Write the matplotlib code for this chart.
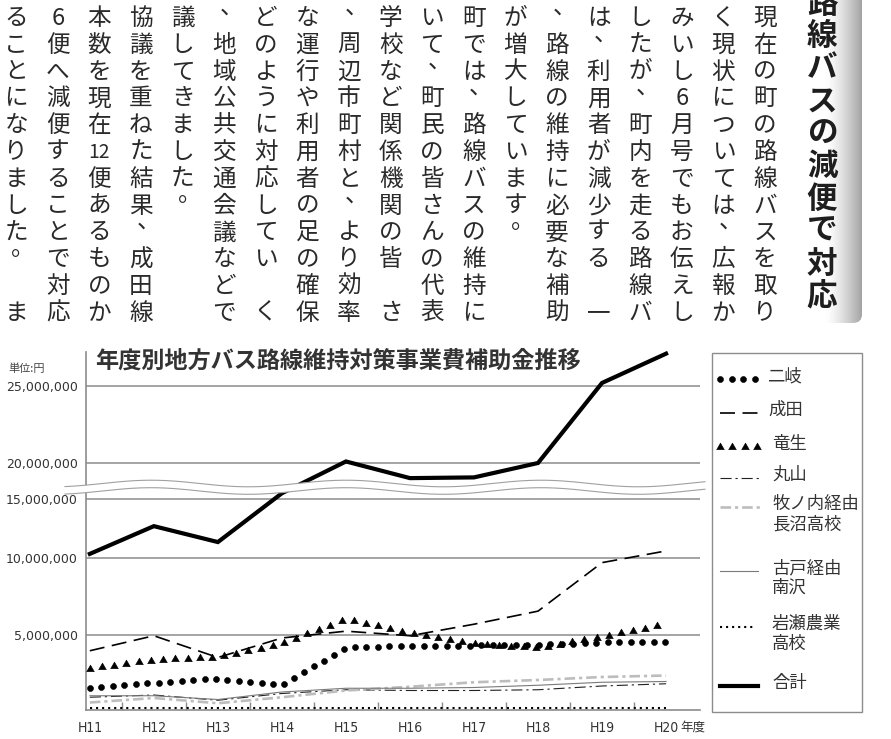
import re
import numpy as np
import matplotlib
matplotlib.use('Agg')
import matplotlib.pyplot as plt
from matplotlib.lines import Line2D
from matplotlib.patches import Polygon, FancyBboxPatch, Rectangle
from matplotlib.path import Path
from matplotlib.patheffects import AbstractPathEffect
from matplotlib.transforms import Affine2D, IdentityTransform

plt.rcParams['font.family'] = ['Noto Sans CJK JP', 'DejaVu Sans']

W, H = 891, 739

# ---- chart data (yen) ----
years = ['H11', 'H12', 'H13', 'H14', 'H15', 'H16', 'H17', 'H18', 'H19', 'H20']
futamata = [1500000, 1800000, 2100000, 1650000, 4150000, 4300000, 4300000, 4350000, 4500000, 4550000]
narita = [3950000, 4950000, 3500000, 4800000, 5250000, 4950000, 5700000, 6550000, 9700000, 10600000]
ryusei = [2750000, 3300000, 3500000, 4400000, 6000000, 5100000, 4400000, 4100000, 4850000, 5700000]
maruyama = [850000, 1000000, 650000, 1100000, 1350000, 1300000, 1300000, 1350000, 1600000, 1750000]
makinouchi = [500000, 800000, 450000, 850000, 1300000, 1550000, 1850000, 2000000, 2200000, 2300000]
furuto = [950000, 950000, 700000, 1200000, 1450000, 1450000, 1500000, 1650000, 1850000, 1900000]
iwase = [150000, 150000, 150000, 150000, 150000, 150000, 150000, 150000, 150000, 150000]
total = [10350000, 12700000, 11350000, 15800000, 20100000, 17900000, 18000000, 20000000, 25200000, 27100000]

names = ['二岐', '成田', '竜生', '丸山', '牧ノ内経由\n長沼高校', '古戸経由\n南沢', '岩瀬農業\n高校', '合計']
series = [futamata, narita, ryusei, maruyama, makinouchi, furuto, iwase, total]
yticks = [5000000, 10000000, 15000000, 20000000, 25000000]

# broken axis: value -> height above baseline (px)
knot_val = [0, 5e6, 10e6, 15e6, 20e6, 25e6, 30e6]
knot_px = [0, 75, 152, 211, 247, 324, 401]

# ---- article text (vertical columns, right to left) ----
heading = '路線バスの減便で対応'
columns = [
    "現在の町の路線バスを取り",
    "く現状については、広報か",
    "みいし6月号でもお伝えし",
    "したが、町内を走る路線バ",
    "は、利用者が減少する　一",
    "、路線の維持に必要な補助",
    "が増大しています。",
    "町では、路線バスの維持に",
    "いて、町民の皆さんの代表",
    "学校など関係機関の皆　さ",
    "、周辺市町村と、より効率",
    "な運行や利用者の足の確保",
    "どのように対応してい　く",
    "、地域公共交通会議などで",
    "議してきました。",
    "協議を重ねた結果、成田線",
    "本数を現在12便あるものか",
    "6便へ減便することで対応",
    "ることになりました。　ま",
]


class MarkerTrail(AbstractPathEffect):
    """draw a marker every `spacing` px along the line instead of the stroke"""
    def __init__(self, marker, size, spacing):
        super().__init__()
        self.marker = marker
        self.size = size
        self.spacing = spacing

    def draw_path(self, renderer, gc, tpath, affine, rgbFace=None):
        pts = affine.transform(tpath.vertices)
        seg = np.hypot(*np.diff(pts, axis=0).T)
        cum = np.concatenate([[0], np.cumsum(seg)])
        s = np.arange(0, cum[-1] + 0.5, self.spacing)
        xy = np.column_stack([np.interp(s, cum, pts[:, 0]), np.interp(s, cum, pts[:, 1])])
        gc0 = renderer.new_gc()
        gc0.copy_properties(gc)
        gc0.set_linewidth(0.4)
        gc0.set_dashes(0, None)
        renderer.draw_markers(gc0, self.marker, Affine2D().scale(self.size),
                              Path(xy), IdentityTransform(), gc.get_rgb())
        gc0.restore()


styles = [
    dict(color='black', lw=1, path_effects=[MarkerTrail(Path.unit_circle(), 3.0, 11.5)]),
    dict(color='black', lw=1.2, ls=(0, (9, 4.5))),
    dict(color='black', lw=1, path_effects=[MarkerTrail(Path.unit_regular_polygon(3), 4.4, 12.3)]),
    dict(color='#222222', lw=0.8, ls=(0, (10, 3.5, 2, 3.5))),
    dict(color='#bdbdbd', lw=1.9, ls=(0, (4, 1.5, 1.2, 1.5))),
    dict(color='#7a7a7a', lw=0.8, ls='-'),
    dict(color='black', lw=1.5, ls=(0, (1, 1.9))),
    dict(color='black', lw=3.0, ls='-', solid_joinstyle='miter'),
]

fig = plt.figure(figsize=(W / 100, H / 100), dpi=100)
PX = Affine2D().scale(1, -1).translate(0, H)

# ---- top: article ----
band = fig.add_axes([795 / W, 0, 67 / W, 1])
band.set_xlim(795, 862)
band.set_ylim(H, 0)
band.axis('off')
gx = np.linspace(0, 1, 200)
shade = 1 - 0.36 * np.clip((gx - 0.45) / 0.55, 0, 1) ** 1.4
img = band.imshow(np.tile(shade, (2, 1)), cmap='gray', vmin=0, vmax=1,
                  extent=[795, 862, 0, 323], aspect='auto', origin='upper')
clip = FancyBboxPatch((795, -30), 67, 353, boxstyle='round,pad=0,rounding_size=9',
                      transform=band.transData, fc='none', ec='none')
band.add_patch(clip)
img.set_clip_path(clip)

hs = 22
hem = hs * 100 / 72
for i, ch in enumerate(heading):
    cy = 1 + 32.5 * i
    fig.text(822, cy + 0.38 * hem, ch, transform=PX, ha='center', va='baseline',
             fontsize=hs, fontweight='bold', color='#1e1e1e')

bs = 17
bem = bs * 100 / 72
for k, col in enumerate(columns):
    cx = 765 - 41.6 * k
    for i, ch in enumerate(re.findall(r'\d{2}|.', col)):
        cy = 16 + 26.8 * i
        if ch == '　':
            continue
        if ch in '、。':
            fig.text(cx + 0.3 * bem, max(cy - 0.1 * bem, 9), ch, transform=PX, ha='center',
                     va='baseline', fontsize=bs, color='#2a2a2a')
        elif len(ch) == 2:
            fig.text(cx, cy + 0.36 * bem, ch, transform=PX, ha='center', va='baseline',
                     fontsize=bs * 0.82, color='#2a2a2a')
        else:
            fig.text(cx, cy + 0.38 * bem, ch, transform=PX, ha='center', va='baseline',
                     fontsize=bs, color='#2a2a2a')

# ---- chart ----
ax = fig.add_axes([86 / W, (H - 710) / H, (700 - 86) / W, 358 / H])


def fwd(v):
    return np.interp(v, knot_val, knot_px)


def inv(p):
    return np.interp(p, knot_px, knot_val)


ax.set_yscale('function', functions=(fwd, inv))
x = np.arange(len(years))
for vals, st in zip(series, styles):
    ax.plot(x, vals, clip_on=False, zorder=3, **st)

ax.set_xlim(-0.06, 9.53)
ax.set_ylim(0, inv(358))
ax.set_yticks(yticks)
ax.set_yticklabels([f'{v:,}' for v in yticks])
ax.yaxis.grid(True, color='#8c8c8c', lw=1.1)
ax.set_axisbelow(True)
ax.minorticks_off()
ax.tick_params(axis='y', length=0, pad=6, labelsize=9, labelcolor='#333333')
for lbl in ax.get_yticklabels():
    lbl.set_family('DejaVu Sans')

ax.set_xticks(x)
ax.set_xticklabels(years)
ax.set_xticks(x[:-1] + 0.5, minor=True)
ax.tick_params(axis='x', which='major', length=0, pad=8, labelsize=10, labelcolor='#333333')
ax.tick_params(axis='x', which='minor', direction='in', length=6, width=1, color='#8c8c8c')
for lbl in ax.get_xticklabels():
    lbl.set_family(['Liberation Sans Narrow', 'DejaVu Sans'])
    lbl.set_fontstretch('condensed')

for side in ['top', 'right']:
    ax.spines[side].set_visible(False)
for side in ['left', 'bottom']:
    ax.spines[side].set_color('#8c8c8c')
    ax.spines[side].set_linewidth(1.2)

fig.text(680, 727, '年度', transform=PX, ha='left', va='center', fontsize=9, color='#333333')
fig.text(8, 369, '単位:円', transform=PX, ha='left', va='center', fontsize=8, color='#444444')
fig.text(95, 361, '年度別地方バス路線維持対策事業費補助金推移', transform=PX, ha='left',
         va='center', fontsize=16.7, fontweight='bold', color='#333333')

# axis break mark
bx = np.linspace(65, 705, 300)
btop = 483.5 - 3.3 * np.cos(2 * np.pi * (bx - 151) / 195)
bbot = btop + 7.5
fig.add_artist(Polygon(np.vstack([np.column_stack([bx, btop]), np.column_stack([bx[::-1], bbot[::-1]])]),
                       transform=PX, fc='white', ec='none', zorder=5))
fig.add_artist(Line2D(bx, btop, transform=PX, color='#a0a0a0', lw=0.8, zorder=6))
fig.add_artist(Line2D(bx, bbot, transform=PX, color='#a0a0a0', lw=0.8, zorder=6))

# legend
fig.add_artist(Rectangle((712, 353), 150, 359, transform=PX, fill=False, ec='#8c8c8c', lw=1))
key_y = [379, 413, 447, 478, 507, 571, 627, 686]
key_x1 = [762, 760, 760, 760, 760, 758, 753, 758]
text_x = [767, 768, 772, 772, 772, 772, 772, 772]
for name, st, ky, kx1, tx in zip(names, styles, key_y, key_x1, text_x):
    fig.add_artist(Line2D([720, kx1], [ky, ky], transform=PX, **st))
    fig.text(tx, ky - 12, name, transform=PX, ha='left', va='top', fontsize=12.5,
             color='#333333', linespacing=1.15)

fig.savefig('out.png', dpi=100)
